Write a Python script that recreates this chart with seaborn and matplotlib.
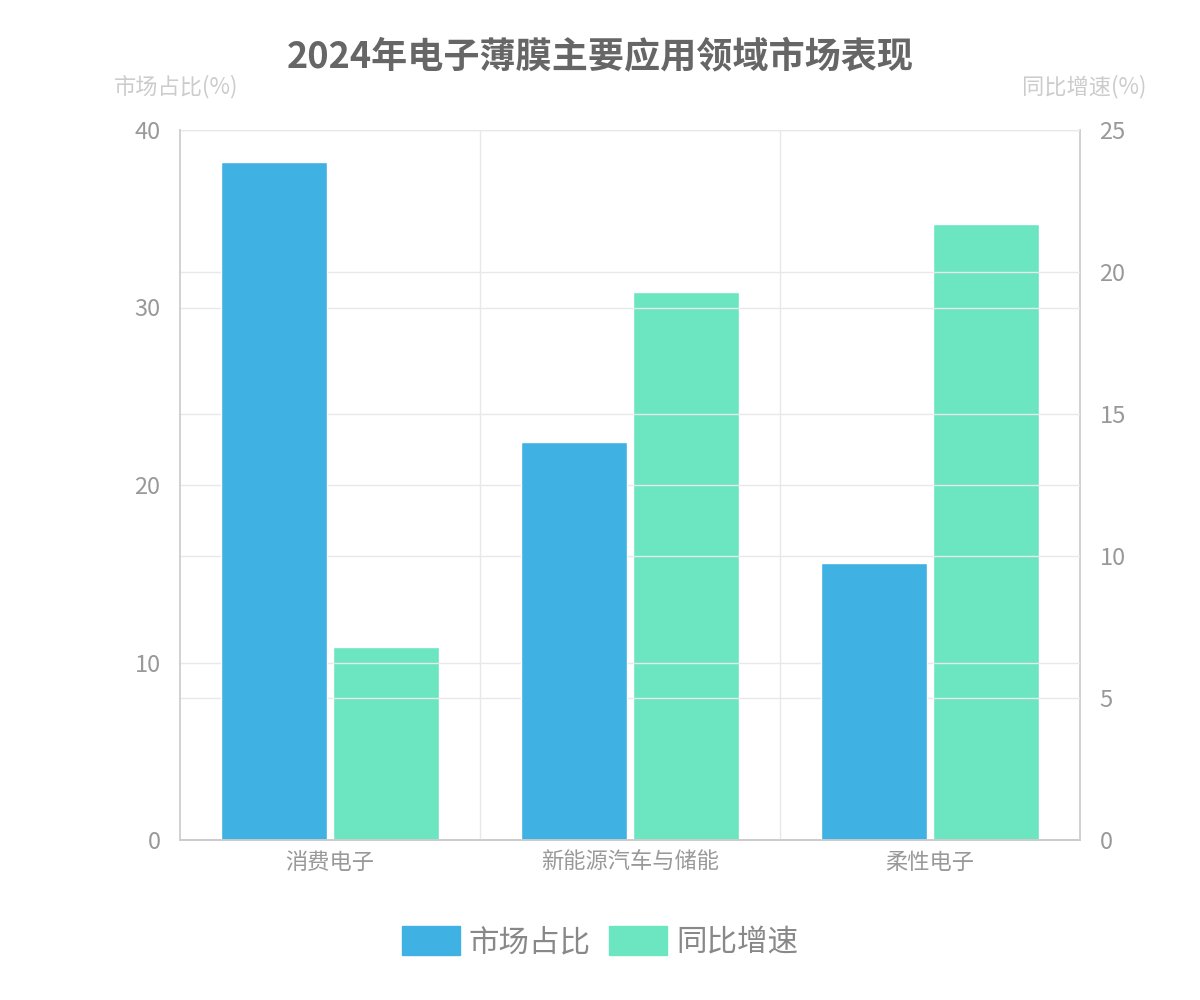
import numpy as np
import pandas as pd
import matplotlib.pyplot as plt
import seaborn as sns

categories = ["消费电子", "新能源汽车与储能", "柔性电子"]
market_share = [38.2, 22.4, 15.6]
yoy_growth = [6.8, 19.3, 21.7]
series = ["市场占比", "同比增速"]
colors = ["#3fb1e3", "#6be6c1"]

sns.set_theme(style="white")
plt.rcParams['font.family'] = ['Noto Sans CJK SC', 'DejaVu Sans']

df_left = pd.DataFrame({"cat": categories * 2, "series": [series[0]] * 3 + [series[1]] * 3,
                        "val": market_share + [np.nan] * 3})
df_right = pd.DataFrame({"cat": categories * 2, "series": [series[0]] * 3 + [series[1]] * 3,
                         "val": [np.nan] * 3 + yoy_growth})

fig = plt.figure(figsize=(12, 10), dpi=100)
ax1 = fig.add_axes([0.15, 0.16, 0.75, 0.71])
ax2 = ax1.twinx()

pal = dict(zip(series, colors))
sns.barplot(data=df_left, x="cat", y="val", hue="series", hue_order=series, palette=pal,
            width=0.75, gap=0.06, saturation=1, ax=ax1, legend=False)
sns.barplot(data=df_right, x="cat", y="val", hue="series", hue_order=series, palette=pal,
            width=0.75, gap=0.06, saturation=1, ax=ax2, legend=False)

grid_c = "#e8e8e8"
tick_c = "#999999"
ax1.set_xlim(-0.5, 2.5)
ax1.set_ylim(0, 40)
ax2.set_ylim(0, 25)
ax1.set_yticks([0, 10, 20, 30, 40])
ax2.set_yticks([0, 5, 10, 15, 20, 25])
ax1.set_axisbelow(True)
for y in [10, 20, 30, 40]:
    ax1.axhline(y, color=grid_c, lw=1, zorder=0)
for y in [5, 10, 15, 20, 25]:
    ax1.axhline(y * 40 / 25, color=grid_c, lw=1, zorder=0)
for x in [0.5, 1.5]:
    ax1.axvline(x, color=grid_c, lw=1, zorder=0)

for ax in (ax1, ax2):
    ax.set_xlabel("")
    ax.set_ylabel("")
    ax.spines["top"].set_visible(False)
    for s in ["left", "right", "bottom"]:
        ax.spines[s].set_color("#cccccc")
    ax.tick_params(axis="y", colors=tick_c, labelsize=17, length=0, pad=14)
ax1.spines["right"].set_visible(False)
ax2.spines["left"].set_visible(False)
ax1.tick_params(axis="x", colors=tick_c, labelsize=16, length=0, pad=8)
ax1.set_zorder(ax2.get_zorder() + 1)
ax1.patch.set_visible(False)

fig.text(0.5, 0.942, "2024年电子薄膜主要应用领域市场表现", ha="center", va="center",
         fontsize=26, fontweight="bold", color="#666666")
fig.text(0.095, 0.913, "市场占比(%)", ha="left", va="center", fontsize=16, color="#cccccc")
fig.text(0.955, 0.913, "同比增速(%)", ha="right", va="center", fontsize=16, color="#cccccc")

handles = [plt.Rectangle((0, 0), 1, 1, color=c) for c in colors]
fig.legend(handles, series, loc="center", bbox_to_anchor=(0.5, 0.058), ncol=2, frameon=False,
           fontsize=22, labelcolor="#888888", handlelength=1.9, handleheight=1.1,
           columnspacing=0.6, handletextpad=0.3)

fig.savefig("out.png", dpi=100)
